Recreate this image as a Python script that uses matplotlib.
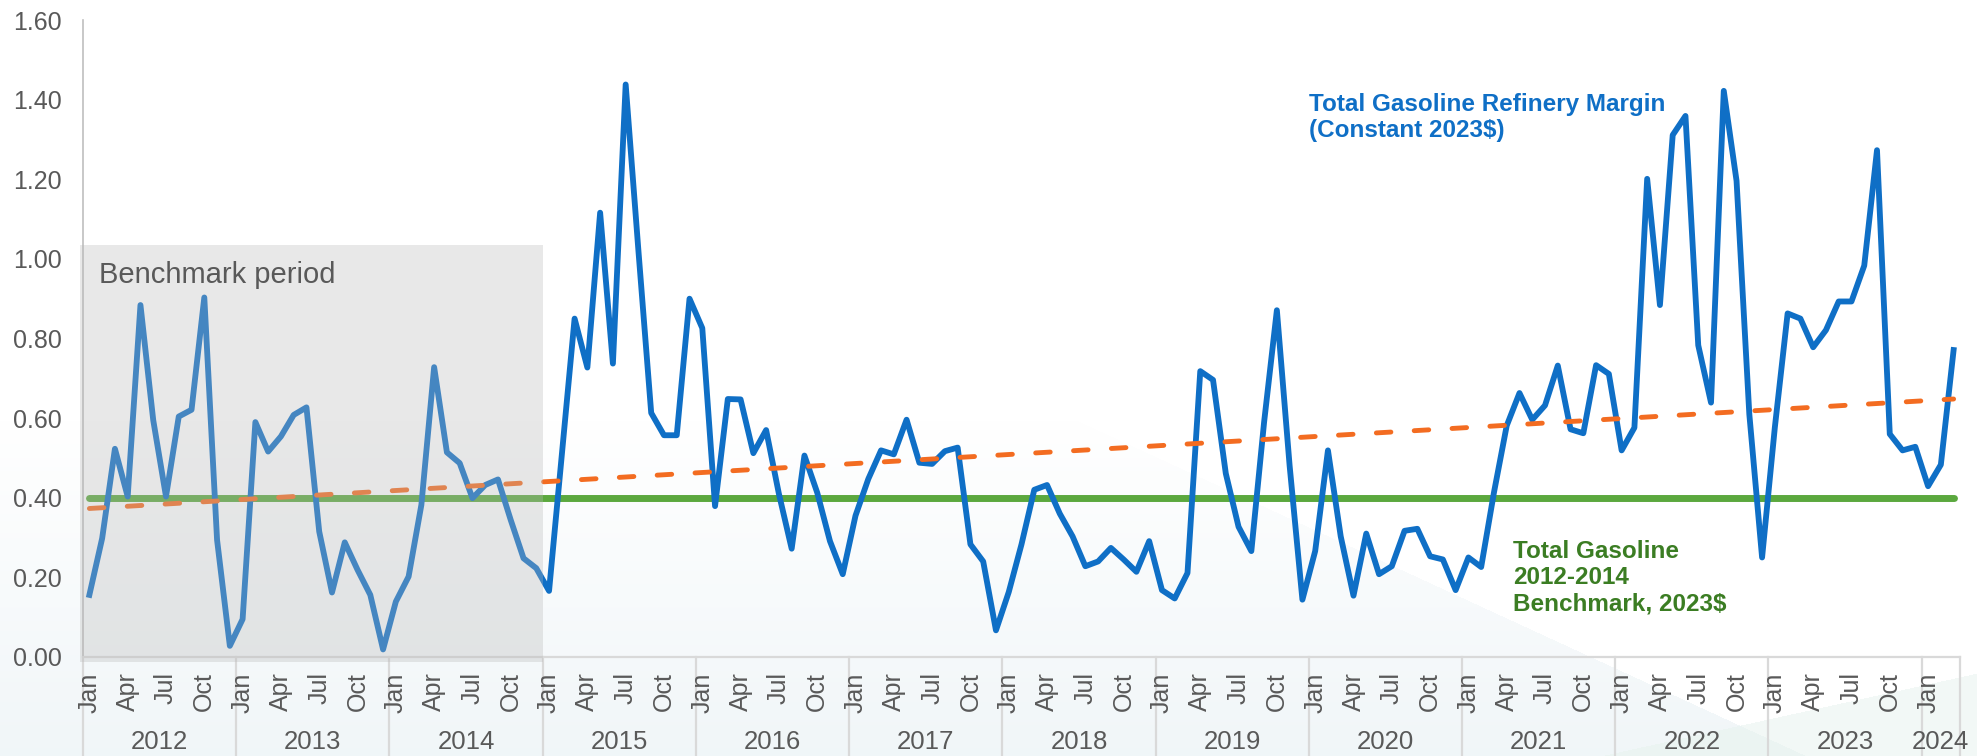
import numpy as np
import matplotlib.pyplot as plt
from matplotlib.patches import Rectangle
from matplotlib.lines import Line2D

plt.rcParams['font.family'] = ['Liberation Sans', 'DejaVu Sans']

# ---- data ----
years = list(range(2012, 2025))
month_names = ['Jan', 'Feb', 'Mar', 'Apr', 'May', 'Jun',
               'Jul', 'Aug', 'Sep', 'Oct', 'Nov', 'Dec']

# Total gasoline refinery margin, constant 2023$ per gallon, Jan 2012 - Mar 2024
margin = [
    0.156, 0.298, 0.523, 0.403, 0.884, 0.595, 0.403, 0.604, 0.621, 0.903, 0.294, 0.028,  # 2012
    0.095, 0.590, 0.516, 0.554, 0.608, 0.627, 0.315, 0.162, 0.288, 0.219, 0.156, 0.019,  # 2013
    0.139, 0.202, 0.382, 0.728, 0.514, 0.487, 0.399, 0.432, 0.446, 0.344, 0.248, 0.223,  # 2014
    0.166, 0.508, 0.850, 0.727, 1.116, 0.737, 1.438, 1.020, 0.613, 0.557, 0.557, 0.900,  # 2015
    0.826, 0.379, 0.648, 0.647, 0.512, 0.570, 0.410, 0.272, 0.506, 0.413, 0.291, 0.208,  # 2016
    0.355, 0.447, 0.519, 0.509, 0.596, 0.488, 0.485, 0.517, 0.526, 0.283, 0.240, 0.067,  # 2017
    0.163, 0.283, 0.420, 0.432, 0.360, 0.303, 0.228, 0.240, 0.274, 0.245, 0.214, 0.291,  # 2018
    0.168, 0.147, 0.211, 0.718, 0.696, 0.461, 0.327, 0.266, 0.590, 0.871, 0.480, 0.144,  # 2019
    0.266, 0.519, 0.303, 0.154, 0.310, 0.208, 0.228, 0.317, 0.322, 0.253, 0.245, 0.168,  # 2020
    0.250, 0.226, 0.413, 0.581, 0.663, 0.596, 0.632, 0.732, 0.572, 0.562, 0.733, 0.711,  # 2021
    0.519, 0.576, 1.201, 0.884, 1.311, 1.359, 0.783, 0.639, 1.422, 1.196, 0.610, 0.250,  # 2022
    0.577, 0.863, 0.850, 0.778, 0.821, 0.893, 0.893, 0.983, 1.273, 0.560, 0.519, 0.528,  # 2023
    0.429, 0.483, 0.771,                                                                  # 2024
]
benchmark = 0.40             # 2012-2014 benchmark, 2023$
trend_ends = [0.373, 0.648]  # dashed trend line, first and last month
benchmark_months = 36        # Jan 2012 - Dec 2014 shaded

BLUE = '#0F6FC6'
GREEN = '#5BA83E'
DARK_GREEN = '#3B7D23'
ORANGE = '#F36C21'
GREY_TXT = '#595959'

n = len(margin)
x = np.arange(n)
tick_labels = [month_names[i % 12] if i % 3 == 0 else '' for i in range(n)]

W, H = 1977, 756
fig = plt.figure(figsize=(W / 100, H / 100), dpi=100)

# faint slide-style background
bg = fig.add_axes([0, 0, 1, 1], zorder=-10)
X, Y = np.meshgrid(np.arange(W), np.arange(H))
img = np.ones((H, W, 3))
tint = np.clip((Y - 420) / 336.0, 0, 1) * 0.75 * (Y > 500 + 0.46 * (X - 1250))
tint_col = np.array([0.925, 0.953, 0.965])
img = img * (1 - tint[..., None]) + tint_col * tint[..., None]
mint = (Y > 756 - 0.22 * (X - 1600)) * 0.5
mint_col = np.array([0.90, 0.952, 0.93])
img = img * (1 - mint[..., None]) + mint_col * mint[..., None]
bg.imshow(img, aspect='auto', extent=[0, 1, 0, 1], origin='upper')
bg.axis('off')

ax = fig.add_axes([83 / W, 1 - 657 / H, (1960 - 83) / W, 637 / H])
ax.patch.set_alpha(0)

ax.plot([0, n - 1], [benchmark, benchmark], color=GREEN, lw=5.0,
        solid_capstyle='round', zorder=2)
ax.plot(x, margin, color=BLUE, lw=4.2, zorder=3)
ax.plot([0, n - 1], trend_ends, color=ORANGE, lw=3.5, dashes=(3.0, 4.8),
        dash_capstyle='round', zorder=4)

# shaded benchmark period
ax.add_patch(Rectangle((-0.77, -0.0125), benchmark_months + 0.27, 1.0475,
                       facecolor='#B8B8B8', alpha=0.32, edgecolor='none',
                       zorder=5, clip_on=False))

ax.set_xlim(-0.5, n - 0.5)
ax.set_ylim(0, 1.6)
ax.set_yticks(np.arange(0, 1.61, 0.2))
ax.set_yticklabels([f'{v:.2f}' for v in np.arange(0, 1.61, 0.2)])
ax.set_xticks(x)
ax.set_xticklabels(tick_labels, rotation=90)
ax.tick_params(axis='x', length=0, pad=11, labelsize=18, labelcolor=GREY_TXT)
ax.tick_params(axis='y', length=0, pad=15, labelsize=18, labelcolor=GREY_TXT)

for side in ['top', 'right']:
    ax.spines[side].set_visible(False)
ax.spines['left'].set_color('#BFBFBF')
ax.spines['left'].set_linewidth(1.2)
ax.spines['bottom'].set_color('#D9D9D9')
ax.spines['bottom'].set_linewidth(1.6)

# year level of the category axis
trans = ax.get_xaxis_transform()
for k, yr in enumerate(years):
    start = 12 * k - 0.5
    end = min(12 * k + 11.5, n - 0.5)
    ax.text((start + end) / 2, -0.1334, str(yr), transform=trans,
            ha='center', va='center', fontsize=18.5, color=GREY_TXT)
bounds = [12 * k - 0.5 for k in range(len(years))] + [n - 0.5]
for b in bounds:
    ax.add_line(Line2D([b, b], [0, -0.17], transform=trans, color='#D9D9D9',
                       lw=1.6, clip_on=False, zorder=1))

# annotations
ax.text(0.75, 0.939, 'Benchmark period', fontsize=21, color=GREY_TXT,
        va='baseline', ha='left', zorder=6)
ax.text(95.5, 1.417, 'Total Gasoline Refinery Margin\n(Constant 2023$)',
        fontsize=17.5, fontweight='bold', color=BLUE, va='top', ha='left',
        zorder=6)
ax.text(111.5, 0.295, 'Total Gasoline\n2012-2014\nBenchmark, 2023$',
        fontsize=17.5, fontweight='bold', color=DARK_GREEN, va='top',
        ha='left', zorder=6)

fig.savefig('out.png', dpi=100)
